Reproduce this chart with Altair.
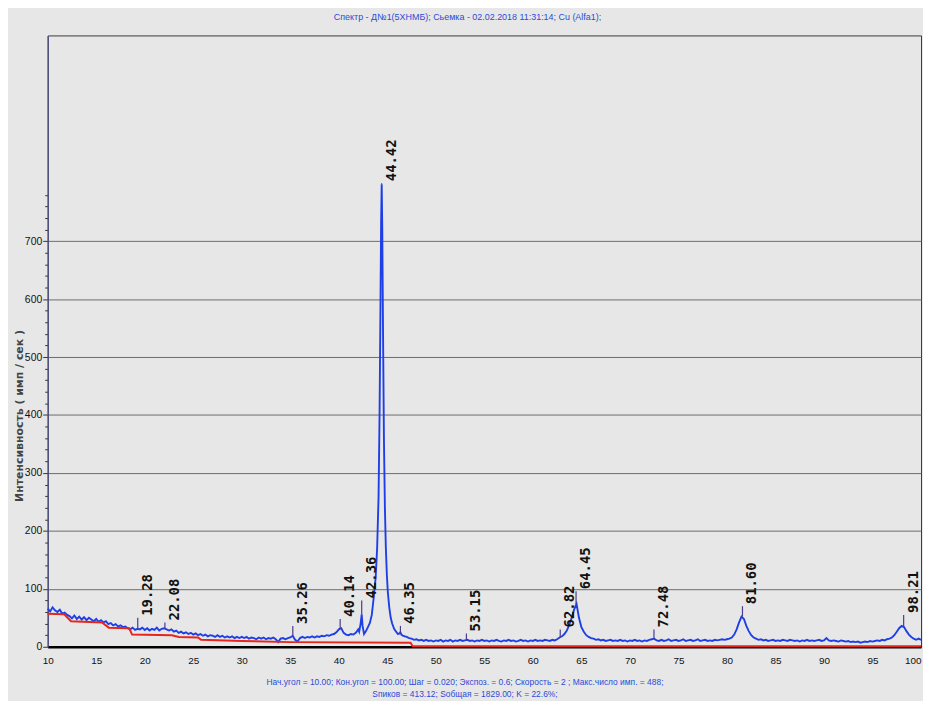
import altair as alt
import numpy as np
import pandas as pd

# ---------------- data ----------------
GRID_START = 10.0
GRID_STEP = 0.25
# measured intensity (imp/sec) on a 0.25 deg grid, 10 ... 100 deg
counts_grid = (
    [66, 61, 68, 63, 60, 64, 57, 59, 55, 53, 49, 54, 48, 52, 47, 51, 46, 50, 47, 44]      # 10-14.75
    + [48, 43, 46, 42, 44, 39, 41, 37, 39, 35, 37, 34, 35, 32, 30, 33, 29, 31, 30, 33]    # 15-19.75
    + [29, 32, 28, 31, 29, 33, 28, 31, 32, 30, 28, 30, 26, 28, 24, 26, 23, 25, 22, 24]    # 20-24.75
    + [21, 23, 20, 22, 19, 21, 18, 20, 19, 17, 20, 17, 19, 16, 18, 16, 18, 15, 17, 15]    # 25-29.75
    + [17, 15, 17, 14, 16, 15, 13, 16, 14, 16, 13, 15, 14, 16, 13, 8, 14, 15, 13, 15]     # 30-34.75
    + [16, 19, 12, 9, 15, 17, 15, 17, 16, 18, 16, 18, 17, 19, 18, 20, 19, 21, 22, 25]     # 35-39.75
    + [30, 32, 24, 21, 20, 22, 21, 24, 30, 50, 35, 28, 36, 48, 75, 120, 220, 520, 690, 240]  # 40-44.75
    + [110, 60, 38, 27, 23, 24, 21, 18, 17, 15, 14, 12, 13, 11, 12, 10, 12, 10, 11, 9]   # 45-49.75
    + [11, 10, 12, 9, 11, 10, 12, 9, 11, 10, 12, 10, 11, 12, 10, 11, 9, 11, 10, 12]       # 50-54.75
    + [10, 11, 9, 11, 10, 12, 10, 9, 11, 10, 12, 10, 11, 9, 10, 12, 10, 11, 9, 11]        # 55-59.75
    + [10, 12, 10, 11, 10, 12, 11, 10, 12, 11, 13, 16, 18, 22, 28, 38, 50, 64, 74, 50]    # 60-64.75
    + [34, 26, 20, 17, 15, 14, 12, 13, 11, 12, 10, 11, 12, 10, 11, 10, 12, 10, 11, 9]     # 65-69.75
    + [11, 10, 12, 10, 11, 9, 11, 10, 12, 13, 14, 11, 10, 12, 10, 11, 13, 10, 11, 12]     # 70-74.75
    + [10, 11, 13, 10, 11, 12, 10, 11, 13, 10, 11, 12, 10, 11, 10, 12, 11, 12, 13, 12]    # 75-79.75
    + [13, 14, 16, 21, 30, 42, 52, 48, 36, 27, 20, 16, 14, 12, 13, 11, 12, 10, 11, 12]    # 80-84.75
    + [10, 11, 10, 12, 11, 10, 12, 11, 10, 11, 9, 11, 10, 12, 10, 11, 10, 11, 12, 10]     # 85-89.75
    + [11, 15, 11, 10, 11, 10, 9, 11, 10, 9, 10, 8, 9, 8, 9, 7, 8, 9, 8, 10]              # 90-94.75
    + [9, 10, 11, 10, 12, 11, 13, 14, 16, 20, 26, 32, 36, 34, 27, 21, 17, 14, 12, 14]     # 95-99.75
    + [12]                                                                                # 100
)

# finer reading around the main 44.42 reflection (replaces the grid there)
main_peak_angles = [42.1, 42.25, 42.36, 42.45, 42.6, 42.8, 43.0, 43.2, 43.4, 43.6, 43.8, 43.95,
                    44.1, 44.2, 44.3, 44.36, 44.42, 44.48, 44.55, 44.65, 44.75, 44.85, 44.95,
                    45.05, 45.2, 45.35, 45.5, 45.7, 45.9, 46.1, 46.25, 46.35, 46.45, 46.6, 46.8]
main_peak_counts = [26, 40, 56, 36, 22, 27, 34, 41, 55, 85, 120, 170,
                    260, 400, 600, 730, 798, 720, 560, 360, 240, 170, 125,
                    95, 68, 50, 40, 31, 26, 22, 23, 25, 21, 19, 18]

# red background curve
bg_angles = [10, 11.7, 12.4, 15.6, 16.3, 18.4, 18.7, 22.8, 23.5, 25.5, 25.8, 30, 35, 47.4, 47.6, 100]
bg_counts = [57, 56, 44, 42, 33, 32, 21, 20, 17, 16, 12, 10, 8, 7, 1, 1]

# marked reflections
peak_labels = ["19.28", "22.08", "35.26", "40.14", "42.36", "44.42", "46.35",
               "53.15", "62.82", "64.45", "72.48", "81.60", "98.21"]
peak_angles = [19.28, 22.08, 35.26, 40.14, 42.36, 44.42, 46.35,
               53.15, 62.82, 64.45, 72.48, 81.60, 98.21]
peak_base = [31, 31, 19, 31, 56, 798, 24, 11, 16, 74, 14, 52, 35]
peak_top = [50, 42, 36, 48, 80, 800, 36, 23, 30, 96, 30, 70, 55]

x_ticks = list(range(10, 101, 5))
y_major = [0, 100, 200, 300, 400, 500, 600, 700]
y_minor = [v for v in range(20, 801, 20) if v % 100 != 0]

title_text = "Спектр - Д№1(5ХНМБ);  Сьемка - 02.02.2018 11:31:14;   Cu (Alfa1);"
info_lines = [
    "Нач.угол = 10.00;  Кон.угол = 100.00;  Шаг = 0.020;  Экспоз. = 0.6;  Скорость =  2 ;  Макс.число имп. = 488;",
    "Sпиков = 413.12;  Sобщая = 1829.00;  K = 22.6%;",
]
y_title = "Интенсивность ( имп / сек )"

# ---------------- tables ----------------
grid_angles = GRID_START + GRID_STEP * np.arange(len(counts_grid))
keep = ~((grid_angles >= min(main_peak_angles)) & (grid_angles <= max(main_peak_angles)))
curve_df = pd.DataFrame({
    "angle": np.concatenate([grid_angles[keep], main_peak_angles]),
    "counts": np.concatenate([np.array(counts_grid)[keep], main_peak_counts]),
}).sort_values("angle")
bg_df = pd.DataFrame({"angle": bg_angles, "counts": bg_counts})
peaks_df = pd.DataFrame({"angle": peak_angles, "top": peak_top, "base": peak_base, "label": peak_labels})

BLUE_TXT = "#2a4bd7"
x_scale = alt.Scale(domain=[10, 100], nice=False, zero=False)
y_scale = alt.Scale(domain=[0, 1055], nice=False)

x_axis = alt.Axis(
    values=x_ticks, ticks=False, labelFlush=False, labelPadding=9,
    labelAlign={"condition": {"test": "datum.value === 100", "value": "right"}, "value": "center"},
    labelFont="Liberation Sans", labelFontSize=10, labelColor="#111",
    domainColor="#000", domainWidth=2.5, grid=False,
    title=info_lines, titleFont="Liberation Sans", titleFontSize=8.5,
    titleFontWeight="normal", titleColor=BLUE_TXT, titleBaseline="top",
    titleX=420, titleY=31, titleLineHeight=12,
)
all_y = sorted(y_major + y_minor)
y_axis = alt.Axis(
    values=all_y,
    labelExpr="datum.value % 100 === 0 && datum.value <= 700 ? datum.label : ''",
    tickSize={"condition": {"test": "datum.value % 100 === 0", "value": 5}, "value": 3},
    tickColor="#333", tickWidth=1,
    gridOpacity={"condition": {"test": "datum.value % 100 === 0 && datum.value > 0 && datum.value <= 700",
                               "value": 1}, "value": 0},
    grid=True, gridColor="#5e5e5e", gridWidth=0.9,
    labelFont="Liberation Sans", labelFontSize=10.5, labelColor="#111", labelPadding=1,
    labelFlush=False,
    domainColor="#4a4a80", domainWidth=1.2,
    title=y_title, titleFont="DejaVu Sans", titleFontSize=11, titleFontWeight="bold",
    titleColor="#444", titleAngle=270, titleAlign="center", titleBaseline="middle",
    titleX=-28, titleY=383,
)

X = alt.X("angle:Q", scale=x_scale, axis=x_axis)

curve = alt.Chart(curve_df).mark_line(color="#1f3fe6", strokeWidth=1.9).encode(
    x=X, y=alt.Y("counts:Q", scale=y_scale, axis=y_axis)
)
bg = alt.Chart(bg_df).mark_line(color="#e8251c", strokeWidth=2, interpolate="linear").encode(
    x=X, y=alt.Y("counts:Q", scale=y_scale, axis=y_axis)
)
ticks = alt.Chart(peaks_df).mark_rule(color="#4b3b8f", strokeWidth=1.2).encode(
    x=X, y=alt.Y("top:Q", scale=y_scale, axis=y_axis), y2="base:Q"
)
labels = alt.Chart(peaks_df).mark_text(
    angle=270, align="left", baseline="middle", dx=2, dy=10,
    font="DejaVu Sans Mono", fontSize=14, fontWeight="bold", color="#111",
).encode(x=X, y=alt.Y("top:Q", scale=y_scale, axis=y_axis), text="label:N")

chart = alt.layer(curve, bg, ticks, labels).properties(
    width=880, height=616,
    padding={"left": 40, "top": 25, "right": 2, "bottom": 52},
    autosize=alt.AutoSizeParams(type="none"),
    background="#e7e7e7",
    title=alt.TitleParams(
        text=title_text, font="Liberation Sans", fontSize=9, fontWeight="normal",
        color=BLUE_TXT, anchor="middle", offset=14, dx=-17,
    ),
).configure_view(stroke="#3a3a3a", strokeWidth=1, fill="#e7e7e7")

chart.save("out.html", embed_options={"renderer": "svg", "actions": False})
